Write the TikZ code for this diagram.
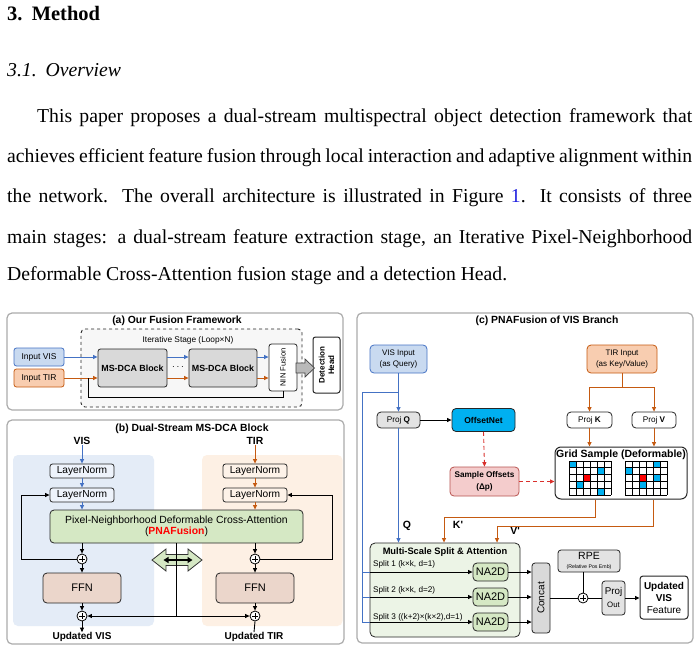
\documentclass[tikz,border=0pt]{standalone}
\usepackage{fontspec}
\setmainfont{Liberation Serif}
\newfontfamily\fs{Liberation Sans}
\usetikzlibrary{arrows.meta,calc}
\definecolor{cblue}{HTML}{4472C4}
\definecolor{corange}{HTML}{C55A11}
\definecolor{visfill}{HTML}{C9DAF0}
\definecolor{tirfill}{HTML}{F8CDB0}
\definecolor{gbox}{HTML}{D9D9D9}
\definecolor{lgbox}{HTML}{E3E3E3}
\definecolor{bgvis}{HTML}{E4ECF7}
\definecolor{bgtir}{HTML}{FDF0E4}
\definecolor{lnv}{HTML}{EEF3FB}
\definecolor{lnt}{HTML}{FDF2E8}
\definecolor{gfill}{HTML}{D5E8C4}
\definecolor{ffnfill}{HTML}{EBD6CB}
\definecolor{msfill}{HTML}{ECF4E6}
\definecolor{cyanbox}{HTML}{00B0F0}
\definecolor{sofill}{HTML}{F4CCCC}
\definecolor{sodraw}{HTML}{B85450}
\definecolor{rdash}{HTML}{D9302C}
\definecolor{linkblue}{HTML}{2020E0}
\newcommand\fsz[2]{\fs\fontsize{#1}{#2}\selectfont}
\newcommand\bodyf{\fontsize{19.7}{24}\selectfont}
\begin{document}
\begin{tikzpicture}[x=1pt,y=-1pt,
  bx/.style={draw=black!85, line width=0.8pt, rounded corners=2.5pt, align=center, inner sep=0pt, font=\fsz{8}{9.5}},
  panel/.style={draw=gray!65, line width=1.2pt, rounded corners=5pt, fill=white, inner sep=0pt},
  ttl/.style={font=\fsz{10.4}{12}\bfseries, inner sep=0pt},
  ln/.style={line width=0.9pt},
  arr/.style={line width=0.9pt, -{Triangle[length=4.5pt,width=4pt]}},
  barr/.style={arr, draw=cblue},
  oarr/.style={arr, draw=corange},
  rarr/.style={arr, draw=rdash, dashed, dash pattern=on 4pt off 3pt},
  pl/.style={circle, draw=black, line width=0.8pt, fill=white, minimum size=10pt, inner sep=0pt,
    path picture={\draw[line width=0.7pt] ([xshift=-2.8pt]path picture bounding box.center) -- ([xshift=2.8pt]path picture bounding box.center);
                  \draw[line width=0.7pt] ([yshift=-2.8pt]path picture bounding box.center) -- ([yshift=2.8pt]path picture bounding box.center);}},
  txt/.style={inner sep=0pt}
]
\useasboundingbox (0,0) rectangle (700,652);
\fill[white] (0,0) rectangle (700,652);

% ---------- body text ----------
\node[txt, anchor=base west] (h1) at (7,21) {\fontsize{20.5}{24}\selectfont\bfseries 3.\hspace{0.45em}Method};
\node[txt, anchor=base west] (h2) at (7,77) {\bodyf\itshape 3.1.\hspace{0.45em}Overview};
\node[txt, anchor=base west] (l1) at (37,123) {\bodyf\makebox[655pt][s]{This paper proposes a dual-stream multispectral object detection framework that}};
\node[txt, anchor=base west] (l2) at (7,163) {\bodyf\makebox[685pt][s]{achieves efficient feature fusion through local interaction and adaptive alignment within}};
\node[txt, anchor=base west] (l3) at (7,203) {\bodyf\makebox[685pt][s]{the network.  The overall architecture is illustrated in Figure \textcolor{linkblue}{1}.  It consists of three}};
\node[txt, anchor=base west] (l4) at (7,243) {\bodyf\makebox[685pt][s]{main stages: a dual-stream feature extraction stage, an Iterative Pixel-Neighborhood}};
\node[txt, anchor=base west] (l5) at (7,280) {\bodyf Deformable Cross-Attention fusion stage and a detection Head.};

% ---------- panel (a) ----------
\node[panel, minimum width=336pt, minimum height=97pt] (pa) at (175,361.5) {};
\node[ttl] (ta) at (177,321) {(a) Our Fusion Framework};
\node[draw=black!85, dashed, line width=0.9pt, rounded corners=4pt, fill=gray!6, minimum width=221pt, minimum height=78pt, inner sep=0pt] (iter) at (191.5,368) {};
\node[txt, font=\fsz{8.3}{10}] (itl) at (188,340) {Iterative Stage (Loop×N)};
\node[bx, fill=visfill, draw=cblue, font=\fsz{8.5}{10}, minimum width=50pt, minimum height=18pt] (invis) at (39,357) {Input VIS};
\node[bx, fill=tirfill, draw=corange, font=\fsz{8.5}{10}, minimum width=50pt, minimum height=18pt] (intir) at (39,378) {Input TIR};
\node[bx, fill=gbox, font=\fsz{8.9}{10}\bfseries, minimum width=69pt, minimum height=38pt] (ms1) at (132.5,368) {MS-DCA Block};
\node[txt, font=\fsz{10}{10}\bfseries] (dots) at (178,367) {$\cdots$};
\node[bx, fill=gbox, font=\fsz{8.9}{10}\bfseries, minimum width=68pt, minimum height=38pt] (ms2) at (223,368) {MS-DCA Block};
\node[bx, fill=white, minimum width=28pt, minimum height=47pt] (nin) at (283,367.5) {};
\node[txt, rotate=90, font=\fsz{7.6}{9}] (ninl) at (nin.center) {NIN Fusion};
\node[bx, fill=white, line width=1pt, minimum width=27pt, minimum height=56pt] (det) at (326.5,365) {};
\node[txt, rotate=90, align=center, font=\fsz{8}{9.3}\bfseries] (detl) at (det.center) {Detection\\Head};
\draw[fill=gray!55, draw=black!75, line width=0.7pt] (296,363) -- (305,363) -- (305,359) -- (314.5,368) -- (305,377) -- (305,373) -- (296,373) -- cycle;
\draw[barr] (invis.east) -- (invis.east -| ms1.west);
\draw[oarr] (intir.east) -- (intir.east -| ms1.west);
\draw[barr] (ms1.east |- invis) -- (ms2.west |- invis);
\draw[oarr] (ms1.east |- intir) -- (ms2.west |- intir);
\draw[barr] (ms2.east |- invis) -- (nin.west |- invis);
\draw[oarr] (ms2.east |- intir) -- (nin.west |- intir);
\coordinate (lp) at (88,378);
\draw[ln] (nin.south) -- ++(0,6.5) -| (lp);

% ---------- panel (b) ----------
\node[panel, minimum width=337pt, minimum height=224pt] (pb) at (175.5,532) {};
\node[ttl] (tb) at (192,429) {(b) Dual-Stream MS-DCA Block};
\fill[bgvis, rounded corners=5pt] (13,455) rectangle (154,626);
\fill[bgtir, rounded corners=5pt] (202,455) rectangle (342.5,626);
\node[txt, font=\fsz{10.4}{12}\bfseries] (visl) at (82,441) {VIS};
\node[txt, font=\fsz{10.4}{12}\bfseries] (tirl) at (255,441) {TIR};
\node[bx, fill=lnv, font=\fsz{10.2}{12}, minimum width=64pt, minimum height=14pt] (ln1v) at (82,471) {LayerNorm};
\node[bx, fill=lnv, font=\fsz{10.2}{12}, minimum width=64pt, minimum height=14pt] (ln2v) at (82,495) {LayerNorm};
\node[bx, fill=lnt, font=\fsz{10.2}{12}, minimum width=64pt, minimum height=14pt] (ln1t) at (255,471) {LayerNorm};
\node[bx, fill=lnt, font=\fsz{10.2}{12}, minimum width=64pt, minimum height=14pt] (ln2t) at (255,495) {LayerNorm};
\node[bx, fill=gfill, rounded corners=4pt, font=\fsz{10.4}{11.5}, minimum width=253pt, minimum height=33pt] (pna) at (176.5,526.5) {Pixel-Neighborhood Deformable Cross-Attention\\(\textcolor{red}{\bfseries PNAFusion})};
\node[pl] (p1v) at (82,559) {};
\node[pl] (p1t) at (255,559) {};
\node[bx, fill=ffnfill, rounded corners=4pt, font=\fsz{11}{12}, minimum width=78pt, minimum height=30pt] (ffnv) at (82,588) {FFN};
\node[bx, fill=ffnfill, rounded corners=4pt, font=\fsz{11}{12}, minimum width=78pt, minimum height=30pt] (ffnt) at (255,588) {FFN};
\node[pl] (p2v) at (82,616) {};
\node[pl] (p2t) at (255,616) {};
\node[txt, font=\fsz{10}{12}\bfseries] (updv) at (82,637) {Updated VIS};
\node[txt, font=\fsz{10}{12}\bfseries] (updt) at (254,637) {Updated TIR};
\draw[barr] (visl.south) -- (ln1v.north);
\draw[barr] (ln1v.south) -- (ln2v.north);
\draw[barr] (ln2v.south) -- (ln2v.south |- pna.north);
\draw[oarr] (tirl.south) -- (ln1t.north);
\draw[oarr] (ln1t.south) -- (ln2t.north);
\draw[oarr] (ln2t.south) -- (ln2t.south |- pna.north);
\draw[arr] (pna.south -| p1v) -- (p1v.north);
\draw[arr] (pna.south -| p1t) -- (p1t.north);
\draw[arr] (p1v.south) -- (ffnv.north);
\draw[arr] (p1t.south) -- (ffnt.north);
\draw[arr] (ffnv.south) -- (p2v.north);
\draw[arr] (ffnt.south) -- (p2t.north);
\draw[arr] (p2v.south) -- (updv.north);
\draw[ln] (p2t.south) -- (updt.north);
\coordinate (lv) at (21,0);
\coordinate (rt) at (332,0);
\draw[arr] (p1v.west) -| (lv |- ln2v.west) -- (ln2v.west);
\draw[arr] (p1t.east) -| (rt |- ln2t.east) -- (ln2t.east);
\draw[fill=gfill, draw=black!80, line width=0.8pt] (152,560) -- (166,549) -- (166,554.5) -- (188,554.5) -- (188,549) -- (202,560) -- (188,571) -- (188,565.5) -- (166,565.5) -- (166,571) -- cycle;
\draw[line width=1.4pt, {Triangle[length=5pt,width=6pt]}-{Triangle[length=5pt,width=6pt]}] (163.5,560) -- (192.5,560);
\coordinate (cj) at (pna.south |- p2v);
\draw[ln] (pna.south) -- (cj);
\draw[arr] (cj) -- (p2v.east);
\draw[arr] (cj) -- (p2t.west);

% ---------- panel (c) ----------
\node[panel, minimum width=336pt, minimum height=330pt] (pc) at (525,478) {};
\node[ttl] (tc) at (547,321) {(c) PNAFusion of VIS Branch};
\node[bx, fill=visfill, draw=cblue, rounded corners=4pt, minimum width=57pt, minimum height=28pt, font=\fsz{8}{10.5}] (visin) at (398.5,359) {VIS Input\\(as Query)};
\node[bx, fill=tirfill, draw=corange, rounded corners=4pt, minimum width=70pt, minimum height=28pt, font=\fsz{8}{10.5}] (tirin) at (622,359) {TIR Input\\(as Key/Value)};
\node[bx, fill=lgbox, rounded corners=4pt, minimum width=43pt, minimum height=16pt, font=\fsz{8.2}{10}] (projq) at (398.5,420) {Proj \textbf{Q}};
\node[bx, fill=cyanbox, rounded corners=4pt, minimum width=63pt, minimum height=23pt, font=\fsz{8.5}{10}\bfseries] (offnet) at (483.5,420) {OffsetNet};
\node[bx, fill=white, rounded corners=4pt, minimum width=45pt, minimum height=16pt, font=\fsz{8.2}{10}] (projk) at (589.5,420) {Proj \textbf{K}};
\node[bx, fill=white, rounded corners=4pt, minimum width=44pt, minimum height=16pt, font=\fsz{8.2}{10}] (projv) at (654,420) {Proj \textbf{V}};
\node[bx, fill=white, line width=1pt, rounded corners=6pt, minimum width=132pt, minimum height=52pt] (grid) at (621,473) {};
\node[txt, font=\fsz{10.5}{12}\bfseries] (gridl) at (621,455) {Grid Sample (Deformable)};
% grids
\foreach \c/\r/\col in {0/0/cyanbox,4/1/cyanbox,2/2/red,1/3/cyanbox,4/4/cyanbox}
  \fill[\col] (569+7*\c,461+6.8*\r) rectangle ++(7,6.8);
\foreach \c/\r/\col in {4/0/cyanbox,0/1/cyanbox,2/2/red,4/2/cyanbox,2/3/cyanbox}
  \fill[\col] (625+7*\c,461+6.8*\r) rectangle ++(7,6.8);
\foreach \ox in {569,625}{
  \foreach \i in {0,...,6} \draw[line width=1pt] (\ox+7*\i,461) -- (\ox+7*\i,495);
  \foreach \j in {0,...,5} \draw[line width=1pt] (\ox,461+6.8*\j) -- (\ox+42,461+6.8*\j);
}
\node[bx, fill=sofill, draw=sodraw, rounded corners=4pt, minimum width=69pt, minimum height=29pt, font=\fsz{8.2}{12}\bfseries] (soff) at (484.5,481.5) {Sample Offsets\\(Δp)};
\node[bx, fill=msfill, rounded corners=5pt, minimum width=150pt, minimum height=94pt] (msbox) at (445,590) {};
\node[txt, font=\fsz{9.3}{11}\bfseries] (msl) at (445,552) {Multi-Scale Split \& Attention};
\node[txt, anchor=west, font=\fsz{8.2}{10}] (s1) at (373,564) {Split 1 (k×k, d=1)};
\node[txt, anchor=west, font=\fsz{8.2}{10}] (s2) at (373,590) {Split 2 (k×k, d=2)};
\node[txt, anchor=west, font=\fsz{8.2}{10}] (s3) at (373,617) {Split 3 ((k+2)×(k×2),d=1)};
\node[bx, fill=gfill, rounded corners=4pt, minimum width=35pt, minimum height=18pt, font=\fsz{11}{12}] (na1) at (490.5,572) {NA2D};
\node[bx, fill=gfill, rounded corners=4pt, minimum width=35pt, minimum height=18pt, font=\fsz{11}{12}] (na2) at (490.5,597) {NA2D};
\node[bx, fill=gfill, rounded corners=4pt, minimum width=35pt, minimum height=18pt, font=\fsz{11}{12}] (na3) at (490.5,622) {NA2D};
\node[bx, fill=gbox, rounded corners=3pt, minimum width=18pt, minimum height=70pt] (concat) at (541,598) {};
\node[txt, rotate=90, font=\fsz{10}{12}] (concatl) at (concat.center) {Concat};
\node[bx, fill=lgbox, rounded corners=3pt, minimum width=62pt, minimum height=22pt] (rpe) at (589,561) {};
\node[txt, font=\fsz{10.5}{12}] (rpel) at (589,556) {RPE};
\node[txt, font=\fsz{5.2}{6}] (rpes) at (589,567) {(Relative Pos Emb)};
\node[pl] (pc1) at (583,598) {};
\node[bx, fill=lgbox, rounded corners=3pt, minimum width=23pt, minimum height=34pt] (projo) at (613.5,598) {};
\node[txt, font=\fsz{9.8}{12}] (projol) at (613.5,592) {Proj};
\node[txt, font=\fsz{7.8}{10}] (projol2) at (613.5,605) {Out};
\node[bx, fill=white, line width=1pt, rounded corners=3pt, minimum width=48pt, minimum height=43pt, font=\fsz{10}{12}] (upd) at (664,597.5) {\textbf{Updated}\\\textbf{VIS}\\Feature};
\node[txt, font=\fsz{10.5}{12}\bfseries] (ql) at (407,526) {Q};
\node[txt, font=\fsz{10.5}{12}\bfseries] (kl) at (458,525) {K'};
\node[txt, font=\fsz{10.5}{12}\bfseries] (vl) at (515,531) {V'};
% connectors (c)
\draw[barr] (visin.south) -- (projq.north);
\coordinate (qb) at (398.5,392);
\coordinate (lx) at (362,0);
\draw[ln, cblue] (qb) -| (lx |- na3);
\draw[ln, cblue] (lx |- na1) -- (msbox.west |- na1);
\draw[ln, cblue] (lx |- na2) -- (msbox.west |- na2);
\draw[ln, cblue] (lx |- na3) -- (msbox.west |- na3);
\draw[arr] (msbox.west |- na1) -- (na1.west);
\draw[arr] (msbox.west |- na2) -- (na2.west);
\draw[arr] (msbox.west |- na3) -- (na3.west);
\draw[barr] (projq.south) -- (projq.south |- msbox.north);
\draw[arr] (projq.east) -- (projq.east -| offnet.west);
\draw[rarr] (offnet.south) -- (soff.north);
\draw[rarr] (soff.east) -- (soff.east -| grid.west);
\coordinate (tb) at (622,387);
\draw[ln, corange] (tirin.south) -- (tb);
\draw[oarr] (tb) -| (projk.north);
\draw[oarr] (tb) -| (projv.north);
\draw[oarr] (projk.south) -- (projk.south |- grid.north);
\draw[oarr] (projv.south) -- (projv.south |- grid.north);
\coordinate (kx) at (595,517);
\coordinate (kx2) at (444,517);
\coordinate (vx) at (653,526);
\coordinate (vx2) at (497,526);
\draw[oarr] (grid.south -| kx) -- (kx) -- (kx2) -- (kx2 |- msbox.north);
\draw[oarr] (grid.south -| vx) -- (vx) -- (vx2) -- (vx2 |- msbox.north);
\draw[arr] (na1.east) -- (na1.east -| concat.west);
\draw[arr] (na2.east) -- (na2.east -| concat.west);
\draw[arr] (na3.east) -- (na3.east -| concat.west);
\draw[ln] (concat.east |- pc1) -- (pc1.west);
\draw[ln] (rpe.south -| pc1) -- (pc1.north);
\draw[ln] (pc1.east) -- (projo.west |- pc1);
\draw[arr] (projo.east) -- (projo.east -| upd.west);
\end{tikzpicture}
\end{document}
